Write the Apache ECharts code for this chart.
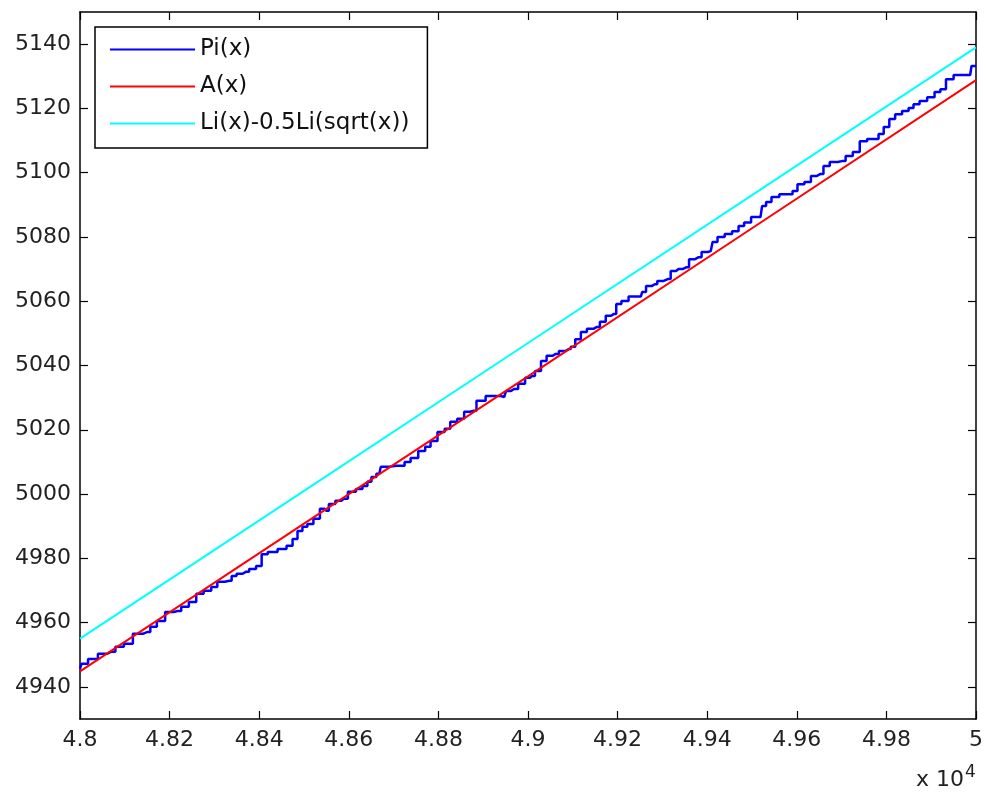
<!DOCTYPE html>
<html>
<head>
<meta charset="utf-8">
<script src="https://cdn.jsdelivr.net/npm/echarts@6/dist/echarts.min.js"></script>
<style>
  html, body { margin: 0; padding: 0; background: #fff; }
  #chart { width: 986px; height: 798px; }
</style>
</head>
<body>
<div id="chart"></div>
<script>
// Tick values
const xTicks = [48000, 48200, 48400, 48600, 48800, 49000, 49200, 49400, 49600, 49800, 50000];
const yTicks = [4940, 4960, 4980, 5000, 5020, 5040, 5060, 5080, 5100, 5120, 5140];

// Pi(x)
const piX = [48000,48007,48029,48051,48069,48089,48107,48129,48151,48163,48180,48200,48218,48234,48252,48267,48285,48301,48312,48334,48343,48356,48370,48385,48401,48410,48428,48454,48468,48481,48490,48503,48512,48530,48541,48550,48561,48579,48588,48608,48624,48637,48646,48655,48668,48675,48706,48719,48730,48746,48764,48777,48788,48808,48820,48833,48851,48864,48877,48893,48918,48931,48947,48955,48969,48987,49000,49009,49022,49036,49047,49062,49076,49091,49100,49111,49125,49138,49154,49167,49180,49191,49203,49214,49235,49252,49258,49269,49283,49294,49312,49325,49336,49354,49365,49381,49394,49408,49416,49430,49448,49463,49477,49488,49508,49519,49526,49537,49550,49572,49586,49595,49608,49626,49637,49653,49666,49681,49701,49717,49733,49748,49766,49777,49788,49800,49813,49826,49844,49855,49866,49882,49900,49915,49926,49940,49960,49987,49993,50000];
const piY = [4945.6,4947.2,4948.7,4950.3,4950.9,4952.5,4953.4,4956.5,4957.1,4958.7,4960.5,4963.3,4963.6,4964.9,4966.4,4969.0,4969.9,4971.1,4972.7,4973.0,4974.5,4975.2,4975.8,4976.7,4977.6,4981.3,4982.0,4982.9,4983.9,4986.0,4988.5,4989.8,4990.7,4992.3,4995.4,4994.8,4996.9,4997.9,4998.5,5000.7,5001.6,5002.5,5003.8,5005.3,5006.3,5008.5,5008.8,5008.8,5010.0,5011.2,5013.4,5014.7,5016.5,5019.3,5020.3,5022.5,5023.4,5025.6,5025.9,5029.0,5030.5,5030.5,5030.2,5032.1,5032.7,5034.3,5036.2,5036.7,5038.3,5041.4,5043.0,5043.6,5044.5,5045.1,5045.8,5048.2,5050.4,5051.4,5052.0,5053.6,5055.5,5056.0,5059.1,5060.1,5061.5,5061.5,5062.9,5064.7,5065.3,5066.3,5066.9,5069.4,5070.0,5070.6,5073.1,5073.7,5075.3,5075.6,5078.4,5080.0,5080.9,5081.8,5083.4,5084.5,5086.2,5086.2,5089.6,5090.9,5092.4,5093.3,5093.3,5094.3,5096.4,5097.1,5099.0,5099.6,5102.1,5103.3,5103.6,5105.2,5106.4,5109.8,5110.5,5110.5,5112.0,5114.2,5116.7,5118.2,5119.2,5120.1,5121.3,5122.3,5123.5,5125.1,5126.0,5129.1,5130.4,5130.4,5133.2,5133.2];

// A(x) and Li(x)-0.5Li(sqrt(x))
const smoothX = [48000, 48500, 49000, 49500, 50000];
const aY  = [4944.8, 4990.8, 5036.6, 5082.7, 5128.8];
const liY = [4955.0, 5001.0, 5047.0, 5093.0, 5139.0];

const zip = (xs, ys) => xs.map((x, i) => [x, ys[i]]);

const FONT = 'DejaVu Sans';
const tickCommon = { inside: true, length: 8, lineStyle: { color: '#000', width: 1.2 } };
const lineCommon = { show: true, lineStyle: { color: '#000', width: 1.5 } };

const chart = echarts.init(document.getElementById('chart'), null, { renderer: 'canvas' });
chart.setOption({
  animation: false,
  backgroundColor: '#fff',
  grid: { left: 80, right: 8, top: 12, bottom: 79, containLabel: false },
  xAxis: [
    {
      type: 'value', min: 48000, max: 50000, position: 'bottom',
      axisLine: lineCommon,
      axisTick: Object.assign({ customValues: xTicks }, tickCommon),
      axisLabel: {
        customValues: xTicks, margin: 10, color: '#222', fontFamily: FONT, fontSize: 22,
        formatter: v => String(+(v / 10000).toFixed(2))
      },
      splitLine: { show: false }
    },
    {
      type: 'value', min: 48000, max: 50000, position: 'top',
      axisLine: lineCommon,
      axisTick: Object.assign({ customValues: xTicks }, tickCommon),
      axisLabel: { show: false },
      splitLine: { show: false }
    }
  ],
  yAxis: [
    {
      type: 'value', min: 4930, max: 5150, position: 'left',
      axisLine: lineCommon,
      axisTick: Object.assign({ customValues: yTicks }, tickCommon),
      axisLabel: {
        customValues: yTicks, margin: 9, color: '#222', fontFamily: FONT, fontSize: 22,
        formatter: v => String(v)
      },
      splitLine: { show: false }
    },
    {
      type: 'value', min: 4930, max: 5150, position: 'right',
      axisLine: lineCommon,
      axisTick: Object.assign({ customValues: yTicks }, tickCommon),
      axisLabel: { show: false },
      splitLine: { show: false }
    }
  ],
  legend: {
    orient: 'vertical', left: 95, top: 27,
    padding: [11, 18, 13, 15], itemGap: 14,
    itemWidth: 85, itemHeight: 2, icon: 'rect',
    backgroundColor: '#fff', borderColor: '#000', borderWidth: 1.5,
    textStyle: { fontFamily: FONT, fontSize: 23, color: '#111' },
    data: ['Pi(x)', 'A(x)', 'Li(x)-0.5Li(sqrt(x))']
  },
  graphic: [
    {
      type: 'text', left: 916, top: 764,
      style: {
        text: '{a|x 10}{b|4}',
        rich: {
          a: { fontFamily: FONT, fontSize: 22, fill: '#222', verticalAlign: 'bottom' },
          b: { fontFamily: FONT, fontSize: 17, fill: '#222', verticalAlign: 'top', padding: [0, 0, 10, 1] }
        }
      }
    }
  ],
  series: [
    {
      name: 'Pi(x)', type: 'line', showSymbol: false, symbol: 'none', step: 'middle',
      data: zip(piX, piY), color: '#0000ff',
      lineStyle: { color: '#0000ff', width: 2.5 }
    },
    {
      name: 'A(x)', type: 'line', showSymbol: false, symbol: 'none',
      data: zip(smoothX, aY), color: '#ff0000',
      lineStyle: { color: '#ff0000', width: 2 }
    },
    {
      name: 'Li(x)-0.5Li(sqrt(x))', type: 'line', showSymbol: false, symbol: 'none',
      data: zip(smoothX, liY), color: '#00ffff',
      lineStyle: { color: '#00ffff', width: 2 }
    }
  ]
});
</script>
</body>
</html>
